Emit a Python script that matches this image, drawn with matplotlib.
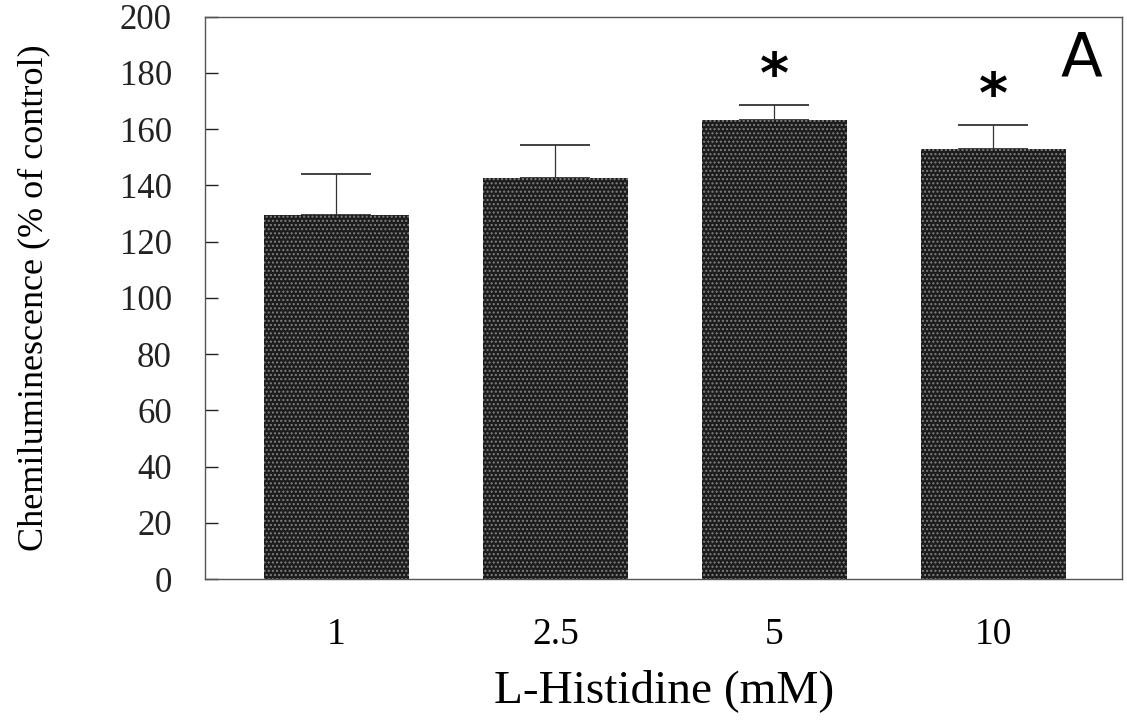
import numpy as np
import matplotlib.pyplot as plt

doses = ['1', '2.5', '5', '10']
means = [129.5, 142.5, 163.3, 153.0]
sems = [14.5, 11.7, 5.2, 8.3]
signif = ['', '', '*', '*']

plt.rcParams['font.family'] = ['Liberation Serif', 'DejaVu Serif']

fig = plt.figure(figsize=(11.27, 7.22), dpi=100)
ax = fig.add_axes([0.182, 0.198, 0.814, 0.779])

x = np.arange(len(doses))
ax.bar(x, means, width=0.66, color='#1c1c1c', edgecolor='#808080', hatch='....',
       linewidth=0, zorder=2)
ax.errorbar(x, means, yerr=[np.zeros(len(sems)), sems], fmt='none', ecolor='#333333',
            elinewidth=0.9, capsize=25, capthick=1.3, zorder=1)

for xi, m, s, lab in zip(x, means, sems, signif):
    if lab:
        ax.text(xi, m + s + 10, lab, ha='center', va='center', fontsize=40,
                family='DejaVu Sans', fontweight='bold')

ax.text(0.955, 0.925, 'A', transform=ax.transAxes, ha='center', va='center',
        fontsize=44, family='DejaVu Sans')

ax.set_xlim(-0.6, 3.59)
ax.set_ylim(0, 200)
ax.set_yticks(np.arange(0, 201, 20))
ax.set_xticks(x)
ax.set_xticklabels(doses)
ax.tick_params(axis='y', direction='in', length=9, width=1, labelsize=25, pad=24,
               colors='#222222')
ax.tick_params(axis='x', length=0, labelsize=27, pad=28)
for sp in ax.spines.values():
    sp.set_linewidth(1.0)
    sp.set_color('#555555')

ax.set_xlabel('L-Histidine (mM)', fontsize=34, labelpad=12)
ax.set_ylabel('Chemiluminescence (% of control)', fontsize=26, labelpad=50)

fig.savefig('out.png', dpi=100)
